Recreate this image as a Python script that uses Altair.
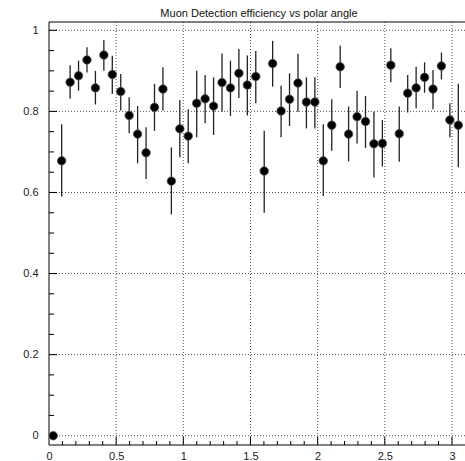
import altair as alt
import pandas as pd

TITLE = "Muon Detection efficiency vs polar angle"

theta = [0.0314, 0.0942, 0.1571, 0.2199, 0.2827, 0.3456, 0.4084, 0.4712, 0.5341, 0.5969,
         0.6597, 0.7226, 0.7854, 0.8482, 0.9111, 0.9739, 1.0367, 1.0996, 1.1624, 1.2252,
         1.2881, 1.3509, 1.4137, 1.4765, 1.5394, 1.6022, 1.6650, 1.7279, 1.7907, 1.8535,
         1.9164, 1.9792, 2.0420, 2.1049, 2.1677, 2.2305, 2.2934, 2.3562, 2.4190, 2.4819,
         2.5447, 2.6075, 2.6704, 2.7332, 2.7960, 2.8588, 2.9217, 2.9845, 3.0473]
eff = [0.0, 0.678, 0.872, 0.888, 0.927, 0.858, 0.939, 0.891, 0.849, 0.790,
       0.744, 0.698, 0.810, 0.855, 0.628, 0.757, 0.739, 0.820, 0.831, 0.813,
       0.871, 0.858, 0.894, 0.865, 0.886, 0.653, 0.918, 0.801, 0.830, 0.870,
       0.823, 0.823, 0.678, 0.766, 0.910, 0.744, 0.787, 0.775, 0.720, 0.721,
       0.914, 0.745, 0.845, 0.858, 0.884, 0.855, 0.912, 0.779, 0.766]
eff_hi = [0.0, 0.768, 0.914, 0.925, 0.958, 0.900, 0.976, 0.937, 0.892, 0.835,
          0.813, 0.761, 0.868, 0.909, 0.711, 0.828, 0.805, 0.900, 0.890, 0.884,
          0.943, 0.925, 0.954, 0.938, 0.949, 0.752, 0.974, 0.863, 0.894, 0.942,
          0.884, 0.884, 0.768, 0.830, 0.962, 0.812, 0.851, 0.838, 0.799, 0.779,
          0.956, 0.812, 0.890, 0.910, 0.921, 0.902, 0.945, 0.820, 0.868]
eff_lo = [0.0, 0.590, 0.831, 0.851, 0.896, 0.817, 0.900, 0.843, 0.802, 0.746,
          0.672, 0.633, 0.752, 0.802, 0.546, 0.687, 0.672, 0.736, 0.771, 0.742,
          0.799, 0.789, 0.833, 0.790, 0.820, 0.550, 0.861, 0.736, 0.764, 0.799,
          0.758, 0.758, 0.591, 0.703, 0.858, 0.677, 0.721, 0.710, 0.637, 0.664,
          0.872, 0.676, 0.797, 0.808, 0.846, 0.805, 0.879, 0.736, 0.662]

x_major = [0.5, 1.0, 1.5, 2.0, 2.5, 3.0]
x_labels = [0, 0.5, 1, 1.5, 2, 2.5, 3]
x_minor = [0.1, 0.2, 0.3, 0.4, 0.6, 0.7, 0.8, 0.9, 1.1, 1.2, 1.3, 1.4, 1.6, 1.7, 1.8, 1.9,
           2.1, 2.2, 2.3, 2.4, 2.6, 2.7, 2.8, 2.9]
y_major = [0.0, 0.2, 0.4, 0.6, 0.8, 1.0]
y_minor = [0.05, 0.1, 0.15, 0.25, 0.3, 0.35, 0.45, 0.5, 0.55, 0.65, 0.7, 0.75, 0.85, 0.9, 0.95]

W, H = 416, 423
XDOM = [0, 3.097]
YDOM = [-0.0229, 1.0205]
FONT = "Liberation Sans"

df = pd.DataFrame({"theta": theta, "eff": eff, "lo": eff_lo, "hi": eff_hi})

xs = alt.Scale(domain=XDOM, nice=False, zero=False)
ys = alt.Scale(domain=YDOM, nice=False, zero=False)

xaxis = alt.Axis(values=x_labels, format="~g", ticks=False, tickSize=0, domain=False,
                 grid=False, labelFont=FONT, labelFontSize=11, labelColor="#222",
                 labelPadding=5, title=None, labelFlush=False)
yaxis = alt.Axis(values=y_major, format="~g", ticks=False, tickSize=0, domain=False,
                 grid=False, labelFont=FONT, labelFontSize=11, labelColor="#222",
                 labelPadding=11, title=None)

# grid lines
xgrid = alt.Chart(pd.DataFrame({"v": x_major})).mark_rule(
    color="#555", strokeDash=[1, 2], strokeWidth=1
).encode(x=alt.X("v:Q", scale=xs, axis=xaxis))
ygrid = alt.Chart(pd.DataFrame({"v": y_major})).mark_rule(
    color="#555", strokeDash=[1, 2], strokeWidth=1
).encode(y=alt.Y("v:Q", scale=ys, axis=yaxis))

# frame (left, top, bottom; right edge lies outside the picture)
frame_left = alt.Chart(pd.DataFrame({"a": [0]})).mark_rule(color="black", strokeWidth=1).encode(
    x=alt.value(0), y=alt.value(0), y2=alt.value(H))
frame_top = alt.Chart(pd.DataFrame({"a": [0]})).mark_rule(color="black", strokeWidth=1).encode(
    y=alt.value(0), x=alt.value(0), x2=alt.value(W))
frame_bot = alt.Chart(pd.DataFrame({"a": [0]})).mark_rule(color="black", strokeWidth=1).encode(
    y=alt.value(H), x=alt.value(0), x2=alt.value(W))

# inward ticks
ytick_major = alt.Chart(pd.DataFrame({"v": y_major})).mark_rule(color="black").encode(
    y=alt.Y("v:Q", scale=ys), x=alt.value(0), x2=alt.value(8))
ytick_minor = alt.Chart(pd.DataFrame({"v": y_minor})).mark_rule(color="black").encode(
    y=alt.Y("v:Q", scale=ys), x=alt.value(0), x2=alt.value(5))
xtick_major = alt.Chart(pd.DataFrame({"v": x_major})).mark_rule(color="black").encode(
    x=alt.X("v:Q", scale=xs), y=alt.value(H), y2=alt.value(H - 8))
xtick_minor = alt.Chart(pd.DataFrame({"v": x_minor})).mark_rule(color="black", clip=True).encode(
    x=alt.X("v:Q", scale=xs), y=alt.value(H), y2=alt.value(H - 4))

base = alt.Chart(df)
bars = base.mark_rule(color="#222", strokeWidth=1.3, clip=True).encode(
    x=alt.X("theta:Q", scale=xs), y=alt.Y("lo:Q", scale=ys), y2="hi:Q")
pts = base.mark_point(filled=True, shape="circle", size=72, color="black", opacity=1,
                      stroke="#555", strokeWidth=0.8, clip=True).encode(
    x=alt.X("theta:Q", scale=xs), y=alt.Y("eff:Q", scale=ys))

title = alt.Chart(pd.DataFrame({"t": [TITLE]})).mark_text(
    font=FONT, fontSize=11, color="#111", align="center", baseline="middle"
).encode(text="t:N", x=alt.value(210), y=alt.value(-8))

chart = alt.layer(xgrid, ygrid, ytick_minor, ytick_major, xtick_minor, xtick_major,
                  frame_left, frame_top, frame_bot, bars, pts, title).properties(
    width=W, height=H,
    autosize=alt.AutoSizeParams(type="none"),
    padding={"left": 49, "top": 22, "right": 0, "bottom": 16},
    background="white",
).configure_view(stroke=None)

chart.save("out.html", embed_options={"renderer": "svg", "actions": False})
